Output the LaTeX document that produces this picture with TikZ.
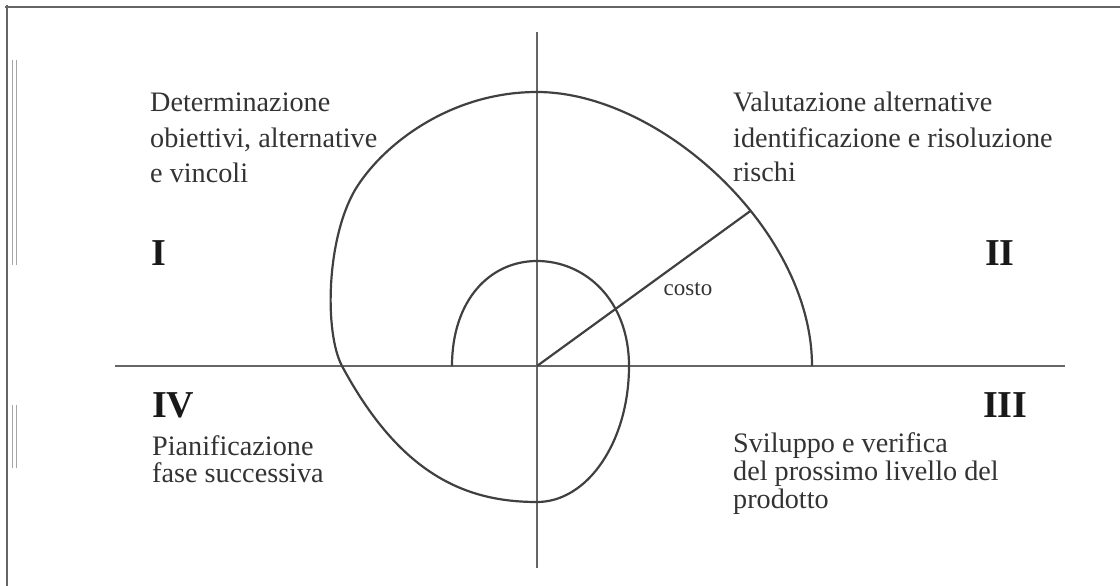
\documentclass[tikz,border=0pt]{standalone}
\usepackage{fontspec}
\setmainfont{Liberation Serif}
\begin{document}
\begin{tikzpicture}[x=1pt,y=-1pt,
  lbl/.style={anchor=base west, inner sep=0pt, text=black!80, font=\fontsize{28.2}{30}\selectfont},
  roman/.style={anchor=base west, inner sep=0pt, text=black!90, font=\fontsize{38}{40}\selectfont\bfseries},
  axis/.style={draw=black!60, line width=2.6pt},
  curve/.style={draw=black!75, line width=2.2pt},
  frameline/.style={draw=black!60, line width=2.6pt}]
\useasboundingbox (0,0) rectangle (1120,586);
% frame
\draw[frameline] (5,7) -- (1120,7);
\draw[frameline] (7,5) -- (7,586);
\draw[draw=black!35, line width=0.8pt] (12,60) -- (12,265) (16,60) -- (16,265) (12,405) -- (12,468) (16,405) -- (16,468);
% axes
\coordinate (O) at (537,366);
\coordinate (xl) at (115,366);
\coordinate (xr) at (1065,366);
\coordinate (yt) at (537,32);
\coordinate (yb) at (537,568);
\draw[axis] (xl) -- (xr);
\draw[axis] (yt) -- (yb);
% spiral
\draw[curve] (452,366) .. controls (452,300) and (490,261) .. (537,261)
  .. controls (585,261) and (629,300) .. (629,366)
  .. controls (629,441) and (588,502) .. (537,502)
  .. controls (465,502) and (400,474) .. (342,366)
  .. controls (324.5,333) and (326,240) .. (355,190)
  .. controls (382,145) and (450,92) .. (537,92)
  .. controls (660,92) and (812,230) .. coordinate[pos=0.6] (C) (812,366);
\draw[curve] (O) -- (C);
\node[anchor=base, inner sep=0pt, text=black!80, font=\fontsize{23}{25}\selectfont] (costo) at (688,295) {costo};
% labels
\node[lbl] (ul1) at (150,111) {Determinazione};
\node[lbl] (ul2) at (150,147) {obiettivi, alternative};
\node[lbl] (ul3) at (150,182) {e vincoli};
\node[lbl] (ur1) at (733,112) {Valutazione alternative};
\node[lbl] (ur2) at (733,147) {identificazione e risoluzione};
\node[lbl] (ur3) at (733,181) {rischi};
\node[lbl] (ll1) at (152,455) {Pianificazione};
\node[lbl] (ll2) at (152,482) {fase successiva};
\node[lbl] (lr1) at (733,452) {Sviluppo e verifica};
\node[lbl] (lr2) at (733,480) {del prossimo livello del};
\node[lbl] (lr3) at (733,508) {prodotto};
% quadrant numerals
\node[roman] (q1) at (151,265) {I};
\node[roman] (q2) at (985,265) {II};
\node[roman] (q4) at (152,417) {IV};
\node[roman] (q3) at (983,417) {III};
\end{tikzpicture}
\end{document}
